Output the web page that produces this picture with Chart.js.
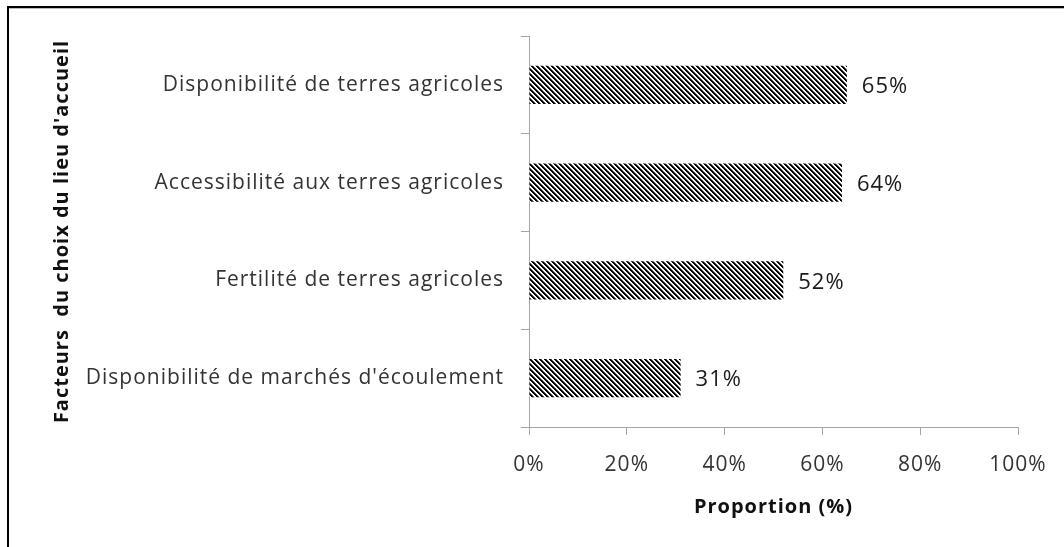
<!DOCTYPE html>
<html>
<head>
<meta charset="utf-8">
<script src="https://cdn.jsdelivr.net/npm/chart.js@4.4.0/dist/chart.umd.min.js"></script>
<style>
  html, body { margin: 0; padding: 0; background: #fff; }
  #wrap { position: relative; width: 1064px; height: 547px; overflow: hidden; }
  #frame { position: absolute; left: 7px; top: 6px; width: 1100px; height: 600px;
           border-top: 2px solid #000; border-left: 2px solid #000; }
  #frame:after { content: ''; position: absolute; left: 0; top: 0; right: 0; height: 1px; background: #bbb; }
  canvas { position: absolute; left: 0; top: 0; }
</style>
</head>
<body>
<div id="wrap">
  <div id="frame"></div>
  <canvas id="chart" width="1064" height="547"></canvas>
</div>
<script>
'use strict';

// DATA
var categories = [
  'Disponibilité de terres agricoles',
  'Accessibilité aux terres agricoles',
  'Fertilité de terres agricoles',
  "Disponibilité de marchés d'écoulement"
];
var proportions = [65, 64, 52, 31];
var xTicks = [0, 20, 40, 60, 80, 100];

var FONT = '"Open Sans", "Noto Sans", sans-serif';

// hatch pattern, lines like "\"
function makeHatch() {
  var c = document.createElement('canvas');
  c.width = 5; c.height = 5;
  var g = c.getContext('2d');
  var img = g.createImageData(5, 5);
  for (var y = 0; y < 5; y++) {
    for (var x = 0; x < 5; x++) {
      var d = ((x - y) % 5 + 5) % 5;
      var v = 255;
      if (d === 0 || d === 1) v = 0;
      else if (d === 2) v = 90;
      var i = (y * 5 + x) * 4;
      img.data[i] = v; img.data[i + 1] = v; img.data[i + 2] = v; img.data[i + 3] = 255;
    }
  }
  g.putImageData(img, 0, 0);
  return g.createPattern(c, 'repeat');
}

// the text in the picture is a bit wider than Open Sans
var spacing = {
  id: 'spacing',
  beforeLayout: function (chart) { chart.ctx.letterSpacing = '1px'; },
  beforeDraw: function (chart) { chart.ctx.letterSpacing = '1px'; }
};

// value labels at end of bars
var valueLabels = {
  id: 'valueLabels',
  afterDatasetsDraw: function (chart) {
    var ctx = chart.ctx;
    var meta = chart.getDatasetMeta(0);
    ctx.save();
    ctx.font = '22px ' + FONT;
    ctx.fillStyle = '#1a1a1a';
    ctx.textAlign = 'left';
    ctx.textBaseline = 'middle';
    meta.data.forEach(function (bar, i) {
      ctx.fillText(proportions[i] + '%', bar.x + 15, bar.y + 2);
    });
    ctx.restore();
  }
};

var ctx = document.getElementById('chart');
var chart = new Chart(ctx, {
  type: 'bar',
  data: {
    labels: categories,
    datasets: [{
      data: proportions,
      backgroundColor: makeHatch(),
      borderWidth: 0,
      barPercentage: 0.39,
      categoryPercentage: 1
    }]
  },
  options: {
    indexAxis: 'y',
    responsive: false,
    animation: false,
    layout: { padding: { left: 50, right: 46, top: 36, bottom: 0 } },
    plugins: { legend: { display: false }, tooltip: { enabled: false } },
    scales: {
      x: {
        min: 0,
        max: 100,
        afterBuildTicks: function (axis) {
          axis.ticks = xTicks.map(function (v) { return { value: v }; });
        },
        afterFit: function (axis) { axis.height = 120; },
        grid: { drawOnChartArea: false, color: '#a6a6a6', tickLength: 8, lineWidth: 1 },
        border: { color: '#a6a6a6' },
        ticks: {
          padding: 17,
          color: '#333',
          font: { family: FONT, size: 21 },
          callback: function (v) { return v + '%'; }
        },
        title: {
          display: true,
          text: 'Proportion (%)',
          color: '#111',
          font: { family: FONT, size: 20, weight: 'bold' },
          padding: { top: 4, bottom: 28 }
        }
      },
      y: {
        afterFit: function (axis) { axis.width = 479; },
        grid: { drawOnChartArea: false, offset: true, color: '#a6a6a6', tickLength: 8, lineWidth: 1 },
        border: { color: '#a6a6a6' },
        ticks: {
          padding: 17,
          color: '#333',
          font: { family: FONT, size: 21 }
        },
        title: {
          display: true,
          text: "Facteurs  du choix du lieu d'accueil",
          color: '#111',
          font: { family: FONT, size: 20, weight: 'bold' },
          padding: { top: 0, bottom: 0 }
        }
      }
    }
  },
  plugins: [spacing, valueLabels]
});
</script>
</body>
</html>
